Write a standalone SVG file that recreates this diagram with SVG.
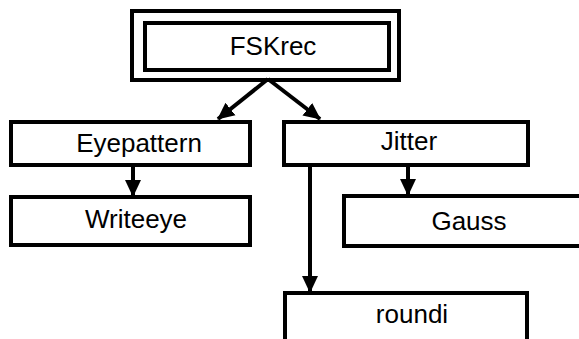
<svg xmlns="http://www.w3.org/2000/svg" width="579" height="339" viewBox="0 0 579 339">
  <style>
    .box { fill: #ffffff; stroke: #000000; stroke-width: 4; }
    .label { font-family: "Liberation Sans", Arial, sans-serif; font-size: 26px; fill: #000000; text-anchor: middle; }
    .edge { fill: none; stroke: #000000; stroke-width: 4; }
  </style>
  <defs>
    <marker id="arrow" markerUnits="userSpaceOnUse" markerWidth="18" markerHeight="18" viewBox="0 0 18 18" refX="16" refY="9" orient="auto">
      <path d="M0,1 L17,9 L0,17 Z" fill="#000000"/>
    </marker>
  </defs>
  <rect width="579" height="339" fill="#ffffff"/>

  <g id="fskrec">
    <rect class="box" x="132" y="11" width="267" height="69"/>
    <rect class="box" x="145" y="23" width="244" height="47"/>
    <text class="label" x="273" y="55">FSKrec</text>
  </g>

  <g id="eyepattern">
    <rect class="box" x="11" y="122" width="239" height="43"/>
    <text class="label" x="139" y="152">Eyepattern</text>
  </g>

  <g id="writeeye">
    <rect class="box" x="11" y="197" width="239" height="48"/>
    <text class="label" x="136" y="228">Writeeye</text>
  </g>

  <g id="jitter">
    <rect class="box" x="284" y="122" width="244" height="43"/>
    <text class="label" x="409" y="150">Jitter</text>
  </g>

  <g id="gauss">
    <rect class="box" x="344" y="196" width="250" height="50"/>
    <text class="label" x="469" y="230">Gauss</text>
  </g>

  <g id="roundi">
    <rect class="box" x="285" y="293" width="242" height="60"/>
    <text class="label" x="412" y="323">roundi</text>
  </g>

  <g id="connectors">
    <line class="edge" x1="268" y1="79" x2="218" y2="119" marker-end="url(#arrow)"/>
    <line class="edge" x1="268" y1="79" x2="320" y2="119" marker-end="url(#arrow)"/>
    <line class="edge" x1="133" y1="166" x2="133" y2="196" marker-end="url(#arrow)"/>
    <line class="edge" x1="408" y1="166" x2="408" y2="195" marker-end="url(#arrow)"/>
    <line class="edge" x1="310" y1="166" x2="310" y2="292" marker-end="url(#arrow)"/>
  </g>
</svg>
